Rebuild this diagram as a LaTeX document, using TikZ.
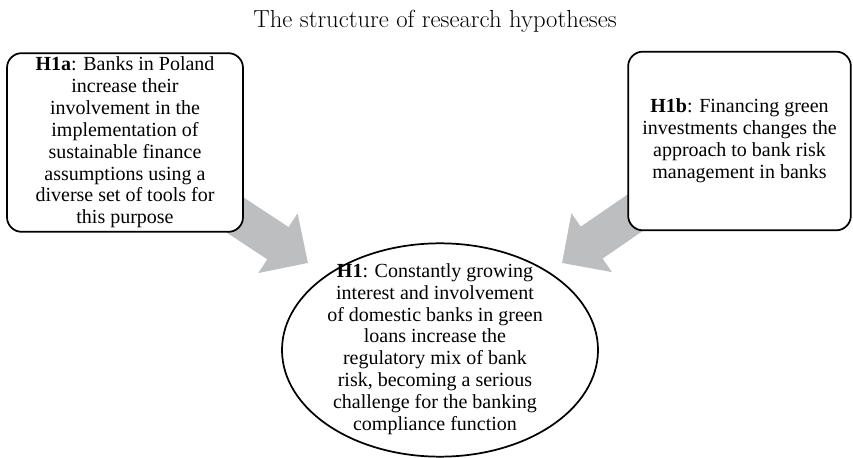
\documentclass[tikz,border=0pt]{standalone}
\usepackage{fontspec}
\usepackage{tikz}
\usetikzlibrary{arrows.meta,shapes.geometric,positioning,backgrounds}

\newfontfamily\boxfont{Liberation Serif}
\definecolor{arrowgray}{RGB}{189,190,192}

\begin{document}
\begin{tikzpicture}[
        x=0.75pt, y=0.75pt,
        every node/.style={align=center, inner sep=0pt},
        hypbox/.style={draw, line width=1.3pt, rounded corners=11pt, fill=white,
            font=\boxfont\fontsize{15}{16.4}\selectfont},
        hypmain/.style={draw, line width=1.3pt, ellipse, fill=white,
            minimum width=237pt, minimum height=160pt},
        fatarrow/.style={draw=arrowgray, line width=29pt,
            -{Triangle[length=27pt, width=52pt, fill=arrowgray]}}
    ]

    \useasboundingbox (0,0) rectangle (853,457);

    % Title
    \node (title) at (435,436) {\fontsize{18.5}{21}\selectfont The structure of research hypotheses};

    % Nodes
    \node (h1a) [hypbox, minimum width=177pt, minimum height=134pt] at (125,314.5)
        {\textbf{H1a}: Banks in Poland \\ increase their \\ involvement in the \\
         implementation of \\ sustainable finance \\ assumptions using a \\
         diverse set of tools for \\ this purpose};

    \node (h1b) [hypbox, minimum width=167pt, minimum height=134pt] at (739.5,316)
        {\textbf{H1b}: Financing green \\ investments changes the \\
         approach to bank risk \\ management in banks};

    \node (h1) [hypmain] at (440,107) {};
    \node (h1text) [font=\boxfont\fontsize{15}{16.4}\selectfont] at (435,108)
        {\textbf{H1}: Constantly growing \\ interest and involvement \\
         of domestic banks in green \\ loans increase the \\
         regulatory mix of bank \\ risk, becoming a serious \\
         challenge for the banking \\ compliance function};

    \coordinate (tipa) at (308,194);
    \coordinate (tipb) at (562,194);

    % Arrows
    \begin{scope}[on background layer]
        \draw[fatarrow] (h1a.center) -- (tipa);
        \draw[fatarrow] (h1b.center) -- (tipb);
    \end{scope}

\end{tikzpicture}
\end{document}
